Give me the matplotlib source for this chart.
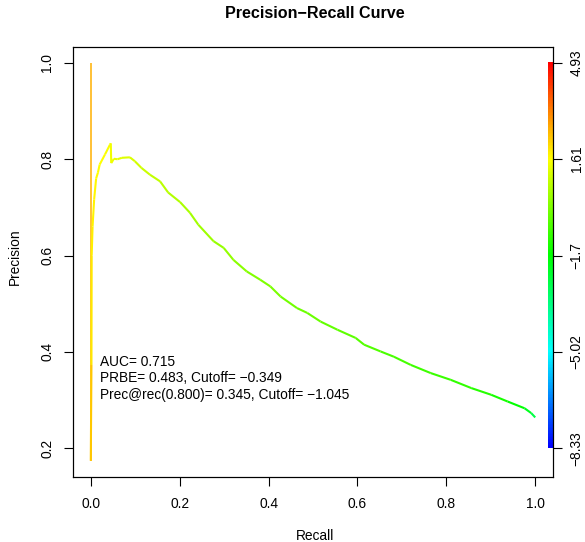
import colorsys
import numpy as np
import matplotlib
matplotlib.use("Agg")
import matplotlib.pyplot as plt
from matplotlib.collections import LineCollection
from matplotlib.colors import ListedColormap, Normalize

plt.rcParams['font.family'] = ['Liberation Sans', 'DejaVu Sans']

# values
recall = [0.0, 0.0, 0.0015, 0.002, 0.004, 0.0075, 0.012, 0.016, 0.02, 0.032,
          0.043, 0.045, 0.046, 0.052, 0.06, 0.07, 0.088, 0.099, 0.114, 0.133,
          0.156, 0.174, 0.201, 0.223, 0.242, 0.276, 0.299, 0.321, 0.351, 0.381,
          0.404, 0.427, 0.464, 0.487, 0.517, 0.555, 0.596, 0.615, 0.652, 0.682,
          0.720, 0.765, 0.810, 0.856, 0.901, 0.938, 0.976, 0.991, 1.0]
precision = [1.0, 0.174, 0.373, 0.60, 0.66, 0.716, 0.76, 0.772, 0.789, 0.81,
             0.83, 0.833, 0.792, 0.801, 0.80, 0.803, 0.804, 0.796, 0.782, 0.768,
             0.754, 0.731, 0.711, 0.689, 0.664, 0.630, 0.616, 0.591, 0.567, 0.550,
             0.536, 0.515, 0.491, 0.481, 0.463, 0.446, 0.429, 0.415, 0.401, 0.390,
             0.373, 0.356, 0.342, 0.325, 0.311, 0.297, 0.283, 0.273, 0.264]
cutoff = [2.6, 2.3, 1.9, 1.8, 1.75, 1.7, 1.65, 1.6, 1.6, 1.55,
          1.5, 1.45, 1.4, 1.35, 1.3, 1.2, 1.1, 1.0, 0.9, 0.8,
          0.7, 0.6, 0.5, 0.42, 0.35, 0.25, 0.18, 0.1, 0.0, -0.08,
          -0.14, -0.2, -0.3, -0.349, -0.42, -0.5, -0.6, -0.65, -0.73, -0.8,
          -0.88, -0.96, -1.05, -1.2, -1.4, -1.65, -2.1, -2.6, -3.4]

cutoff_min, cutoff_max = -8.33, 4.93
cbar_ticks = [1.0, 0.8, 0.6, 0.4, 0.2]
cbar_labels = ["4.93", "1.61", "\u22121.7", "\u22125.02", "\u22128.33"]

annotations = ["AUC= 0.715",
               "PRBE= 0.483, Cutoff= \u22120.349",
               "Prec@rec(0.800)= 0.345, Cutoff= \u22121.045"]

FS = 9.9

# R-like rainbow: blue at the low end, red at the high end
hues = np.linspace(4 / 6, 0, 256)
cmap = ListedColormap([colorsys.hsv_to_rgb(h, 1, 1) for h in hues])
norm = Normalize(cutoff_min, cutoff_max)

fig = plt.figure(figsize=(5.85, 5.42), dpi=100)
ax = fig.add_axes([0.1248, 0.1205, 0.8205, 0.7928])

x = np.array(recall)
y = np.array(precision)
pts = np.column_stack([x, y]).reshape(-1, 1, 2)
segs = np.concatenate([pts[:-1], pts[1:]], axis=1)
widths = [1.1] + [1.5] * (len(segs) - 1)
lc = LineCollection(segs, colors=cmap(norm(np.array(cutoff[:-1]))), linewidths=widths)
ax.add_collection(lc)

ax.set_xlim(-0.04, 1.04)
yr = y.max() - y.min()
ax.set_ylim(y.min() - 0.04 * yr, y.max() + 0.04 * yr)

# colour bar drawn inside the plot region, like ROCR
grad = np.linspace(0, 1, 256).reshape(-1, 1)
ax.imshow(grad, extent=[1.029, 1.040, 0.2, 1.0], aspect='auto',
          cmap=cmap, origin='lower', interpolation='nearest')

for i, t in enumerate(annotations):
    ax.text(0.02, 0.379 - i * 0.034, t, fontsize=FS, ha='left', va='center')

ax.set_xticks([0.0, 0.2, 0.4, 0.6, 0.8, 1.0])
ax.set_xticklabels(["0.0", "0.2", "0.4", "0.6", "0.8", "1.0"])
ax.set_yticks([0.2, 0.4, 0.6, 0.8, 1.0])
ax.set_yticklabels(["0.2", "0.4", "0.6", "0.8", "1.0"], rotation=90, va='center')
ax.tick_params(direction='out', length=6.5, width=0.8, labelsize=FS)
ax.tick_params(axis='x', pad=8)
ax.tick_params(axis='y', pad=7)

ax2 = ax.twinx()
ax2.set_ylim(ax.get_ylim())
ax2.set_yticks(cbar_ticks)
ax2.set_yticklabels(cbar_labels, rotation=90, va='center')
ax2.tick_params(direction='out', length=6.5, width=0.8, labelsize=FS, pad=5.5)

for a in (ax, ax2):
    for s in a.spines.values():
        s.set_linewidth(0.8)

fig.text(0.5386, (542 - 536) / 542, "Recall", ha='center', va='center', fontsize=FS)
fig.text(15 / 585, (542 - 257) / 542, "Precision", rotation=90, ha='center', va='center', fontsize=FS)
fig.text(0.5386, (542 - 13) / 542, "Precision\u2212Recall Curve", ha='center', va='center',
         fontsize=11.6, fontweight='bold')

fig.savefig("out.png", dpi=100)
